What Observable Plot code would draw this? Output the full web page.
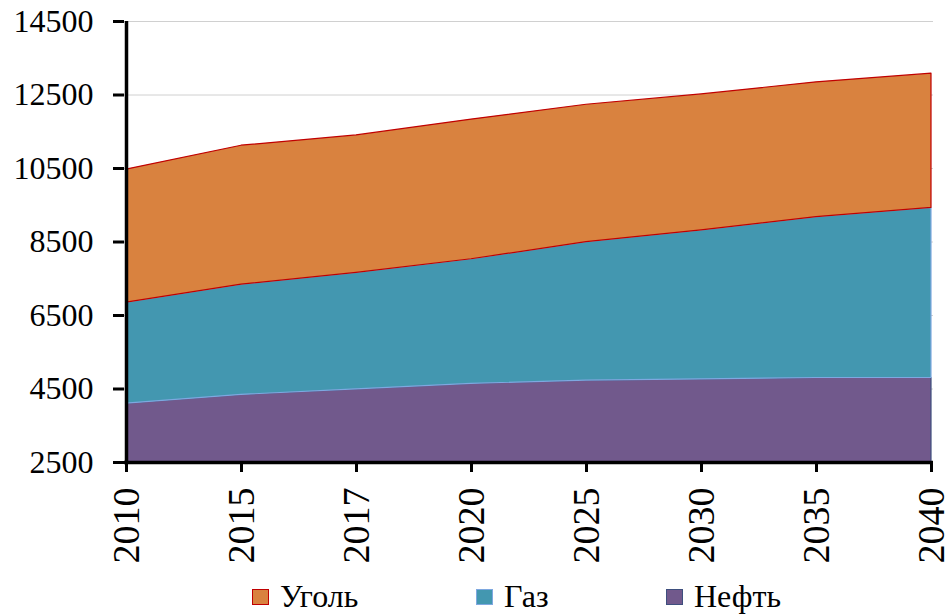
<!DOCTYPE html>
<html>
<head>
<meta charset="utf-8">
<script src="https://cdn.jsdelivr.net/npm/d3@7"></script>
<script src="https://cdn.jsdelivr.net/npm/@observablehq/plot@0.6"></script>
</head>
<body style="margin:0;padding:0;background:#fff;font-family:'Liberation Serif', serif">
<div id="wrap" style="position:relative;width:949px;height:615px;font-family:'Liberation Serif', serif">
  <div id="chart"></div>
  <div id="legend" style="position:absolute;left:0;top:578px;width:949px;height:37px"></div>
</div>
<script>
const years = ["2010", "2015", "2017", "2020", "2025", "2030", "2035", "2040"];
const oil  = [4100, 4340, 4490, 4640, 4730, 4760, 4800, 4800];
const gas  = [2750, 3000, 3170, 3390, 3765, 4055, 4375, 4630];
const coal = [3620, 3780, 3740, 3800, 3740, 3700, 3670, 3650];
const seriesNames = ["Уголь", "Газ", "Нефть"];
const fills   = {"Уголь": "#d9823f", "Газ": "#4397b0", "Нефть": "#71598c"};
const strokes = {"Уголь": "#c00000", "Газ": "#7ea8e0", "Нефть": "#3e4f7e"};
const yTicks = [2500, 4500, 6500, 8500, 10500, 12500, 14500];
const FONT = "'Liberation Serif', serif";

// stacked rows (bottom: Нефть, then Газ, then Уголь)
const rows = [];
years.forEach((yr, i) => {
  const a = oil[i], b = a + gas[i], c = b + coal[i];
  rows.push({year: yr, series: "Нефть", y1: 0, y2: a});
  rows.push({year: yr, series: "Газ", y1: a, y2: b});
  rows.push({year: yr, series: "Уголь", y1: b, y2: c});
});
const bySeries = s => rows.filter(r => r.series === s);

const chart = Plot.plot({
  width: 949,
  height: 578,
  marginTop: 21,
  marginLeft: 124,
  marginRight: 16,
  marginBottom: 116,
  style: "font-family: 'Liberation Serif', serif; color: #000; background: #fff; overflow: visible;",
  x: {type: "point", domain: years, padding: 0, label: null},
  y: {domain: [2500, 14500], label: null},
  marks: [
    Plot.gridY(yTicks, {stroke: "#d0d0d0", strokeOpacity: 1, strokeWidth: 1}),
    ...["Нефть", "Газ", "Уголь"].map(s =>
      Plot.areaY(bySeries(s), {x: "year", y1: "y1", y2: "y2", fill: fills[s], fillOpacity: 1,
        stroke: strokes[s], strokeWidth: 1.2, clip: true})
    ),
    Plot.ruleY([2500], {stroke: "#000", strokeWidth: 3.5}),
    Plot.ruleX([years[0]], {stroke: "#000", strokeWidth: 3.5}),
    Plot.axisY({ticks: yTicks, tickSize: 11, tickPadding: 20, strokeWidth: 3, fontSize: 32, tickFormat: d => String(d), label: null, fill: "#000"}),
    Plot.axisX({tickRotate: -90, tickSize: 10, tickPadding: 15, strokeWidth: 3, fontSize: 38, label: null, fill: "#000"})
  ]
});
chart.setAttribute("font-family", "Liberation Serif");
chart.querySelectorAll("g, text").forEach(t => {
  if (t.hasAttribute("font-family")) t.setAttribute("font-family", "Liberation Serif");
});
chart.querySelectorAll("text").forEach(t => {
  t.setAttribute("font-family", "Liberation Serif");
  t.style.fontFamily = FONT;
});
document.getElementById("chart").appendChild(chart);

const legend = document.getElementById("legend");
const lx = {"Уголь": 252, "Газ": 476, "Нефть": 666};
seriesNames.forEach(s => {
  const it = document.createElement("div");
  it.style.cssText = "position:absolute;top:0;left:" + lx[s] + "px;display:flex;align-items:center;font-size:32px;color:#000;font-family:'Liberation Serif', serif";
  const sw = document.createElement("div");
  sw.style.cssText = "width:15px;height:14px;border:1.5px solid " + strokes[s] + ";background:" + fills[s] + ";margin-right:11px";
  it.appendChild(sw);
  const t = document.createElement("span");
  t.style.fontFamily = FONT;
  t.textContent = s;
  it.appendChild(t);
  legend.appendChild(it);
});
</script>
</body>
</html>
